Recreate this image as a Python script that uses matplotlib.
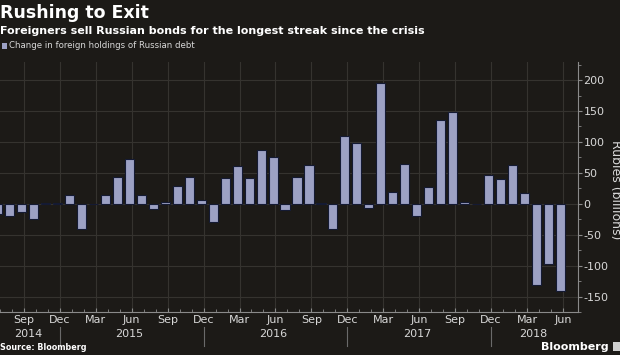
import numpy as np
import matplotlib
matplotlib.use("Agg")
import matplotlib.pyplot as plt
from matplotlib.patches import Rectangle
import matplotlib.transforms as mtransforms


# -----------------------------
# Data (monthly, Jul 2014 - Jun 2018)
# -----------------------------

values = [
    -16, -19, -13, -24, 2, 0.5, 14, -41, -1, 14, 44, 72,
    14, -9, 3, 29, 44, 6, -30, 42, 61, 41, 87, 75,
    -10, 43, 62, 1, -41, 109, 98, -7, 196, 19, 65, -20,
    27, 135, 148, 3, -1, 46, 40, 63, 17, -132, -97, -141,
]

month_labels = ["Sep", "Dec", "Mar", "Jun"] * 4
month_ticks = list(range(2, 48, 3))

year_labels = ["2014", "2015", "2016", "2017", "2018"]
year_pos = [2.6, 11, 23, 35, 44.7]
year_breaks = [5.2, 17.2, 29.2, 41.2]

y_ticks = [-150, -100, -50, 0, 50, 100, 150, 200]


# -----------------------------
# Style
# -----------------------------

BG = "#1c1a17"
GRID = "#35332f"
BAR = "#9ca1c4"
TEXT = "#d8d8d8"

plt.rcParams["font.family"] = ["DejaVu Sans"]

fig = plt.figure(figsize=(6.2, 3.55), dpi=100, facecolor=BG)
ax = fig.add_axes([0.0, 0.121, 0.932, 0.704], facecolor=BG)

x = np.arange(len(values))

ax.bar(
    x,
    values,
    width=0.76,
    color=BAR,
    edgecolor="#141a33",
    linewidth=0.8,
    zorder=3,
)

ax.set_xlim(0.28, 48.45)
ax.set_ylim(-174, 229)

# x axis
ax.set_xticks([m + 0.2 for m in month_ticks])
ax.set_xticklabels(month_labels, fontsize=8, color=TEXT)
ax.set_xticks(x + 0.2, minor=True)
ax.tick_params(axis="x", which="major", length=3, direction="in",
               color="#8a8a8a", pad=2)
ax.tick_params(axis="x", which="minor", length=2, direction="in",
               color="#8a8a8a")

# y axis on the right
ax.yaxis.tick_right()
ax.set_yticks(y_ticks)
ax.set_yticklabels([str(v) for v in y_ticks], fontsize=8, color=TEXT)
ax.set_yticks(np.arange(-175, 226, 25), minor=True)
ax.tick_params(axis="y", which="major", length=3, direction="out",
               color="#8a8a8a", pad=1)
ax.tick_params(axis="y", which="minor", length=2, direction="out",
               color="#8a8a8a")

ax.grid(True, which="major", color=GRID, linewidth=0.8, zorder=0)

for side in ["top", "left"]:
    ax.spines[side].set_visible(False)
ax.spines["right"].set_color("#8a8a8a")
ax.spines["bottom"].set_color("#8a8a8a")

# year labels and separators
trans = mtransforms.blended_transform_factory(ax.transData, ax.transAxes)
for lab, pos in zip(year_labels, year_pos):
    ax.text(pos, -0.088, lab, transform=trans, ha="center", va="center",
            fontsize=8, color=TEXT)

for b in year_breaks:
    ax.plot([b, b], [-0.06, -0.135], transform=trans, color="#6a6a6a",
            linewidth=0.8, clip_on=False)

# y label, partly cut at the right edge
fig.text(0.992, 0.465, "Rubles (billions)", rotation=-90, ha="center",
         va="center", fontsize=9, color=TEXT)


# -----------------------------
# Titles, legend and footer
# -----------------------------

fig.text(0.0, 0.962, "Rushing to Exit", fontsize=12.5, fontweight="bold",
         color="white", ha="left", va="center")

fig.text(0.0, 0.912,
         "Foreigners sell Russian bonds for the longest streak since the crisis",
         fontsize=8, fontweight="bold", color="white", ha="left",
         va="center")

fig.patches.append(
    Rectangle((0.003, 0.862), 0.009, 0.016, transform=fig.transFigure,
              facecolor=BAR, edgecolor="none")
)
fig.text(0.015, 0.871, "Change in foreign holdings of Russian debt",
         fontsize=6.2, color=TEXT, ha="left", va="center")

fig.text(0.0, 0.02, "Source: Bloomberg", fontsize=5.8, fontweight="bold",
         color="white", ha="left", va="center")

fig.text(0.981, 0.023, "Bloomberg", fontsize=8, fontweight="bold",
         color="white", ha="right", va="center")
fig.patches.append(
    Rectangle((0.988, 0.01), 0.012, 0.027, transform=fig.transFigure,
              facecolor="#cfcfcf", edgecolor="none")
)

fig.savefig("out.png", dpi=100, facecolor=BG)
plt.close(fig)
